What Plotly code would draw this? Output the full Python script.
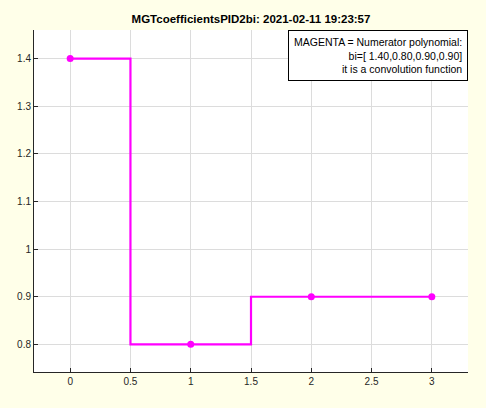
import plotly.graph_objects as go

# coeficientes bi del numerador
n_index = [0, 1, 2, 3]
bi_values = [1.40, 0.80, 0.90, 0.90]

x_ticks = [0, 0.5, 1, 1.5, 2, 2.5, 3]
x_labels = ["0", "0.5", "1", "1.5", "2", "2.5", "3"]
y_ticks = [0.8, 0.9, 1.0, 1.1, 1.2, 1.3, 1.4]
y_labels = ["0.8", "0.9", "1", "1.1", "1.2", "1.3", "1.4"]

title_text = "MGTcoefficientsPID2bi: 2021-02-11 19:23:57"
legend_lines = [
    "MAGENTA = Numerator polynomial:",
    "bi=[ 1.40,0.80,0.90,0.90]",
    "it is a convolution function",
]

fig = go.Figure()

fig.add_trace(go.Scatter(
    x=n_index,
    y=bi_values,
    mode="lines+markers",
    line=dict(color="#FF00FF", width=2.2, shape="hvh"),
    marker=dict(color="#FF00FF", size=7),
    showlegend=False,
    hoverinfo="skip",
))

axis_common = dict(
    showgrid=True,
    gridcolor="#DCDCDC",
    gridwidth=1,
    zeroline=False,
    showline=True,
    linecolor="#262626",
    linewidth=1,
    ticks="inside",
    ticklen=4,
    tickcolor="#262626",
    tickfont=dict(family="Liberation Sans, Arial, sans-serif", size=10, color="#262626"),
    mirror=False,
    automargin=False,
)

fig.update_layout(
    width=486,
    height=408,
    paper_bgcolor="#FFFFE9",
    plot_bgcolor="#FFFFFF",
    margin=dict(l=34, r=18, t=30, b=36),
    title=dict(
        text="<b>" + title_text + "</b>",
        x=(34 + 468) / 2 / 486,
        xanchor="center",
        y=1 - 19 / 408,
        yanchor="middle",
        font=dict(family="Liberation Sans, Arial, sans-serif", size=11.5, color="#000000"),
    ),
    xaxis=dict(axis_common, range=[-0.3, 3.3], tickvals=x_ticks, ticktext=x_labels),
    yaxis=dict(axis_common, range=[0.742, 1.46], tickvals=y_ticks, ticktext=y_labels),
)

fig.add_annotation(
    xref="paper",
    yref="paper",
    x=1.0,
    y=1.0,
    xanchor="right",
    yanchor="top",
    text="<br>".join(legend_lines),
    align="right",
    showarrow=False,
    bgcolor="#FFFFFF",
    bordercolor="#000000",
    borderwidth=1,
    borderpad=5,
    font=dict(family="Liberation Sans, Arial, sans-serif", size=10.5, color="#000000"),
)

fig.write_html(
    "out.html",
    config={"displayModeBar": False},
    post_script="document.body.style.margin='0';",
)
